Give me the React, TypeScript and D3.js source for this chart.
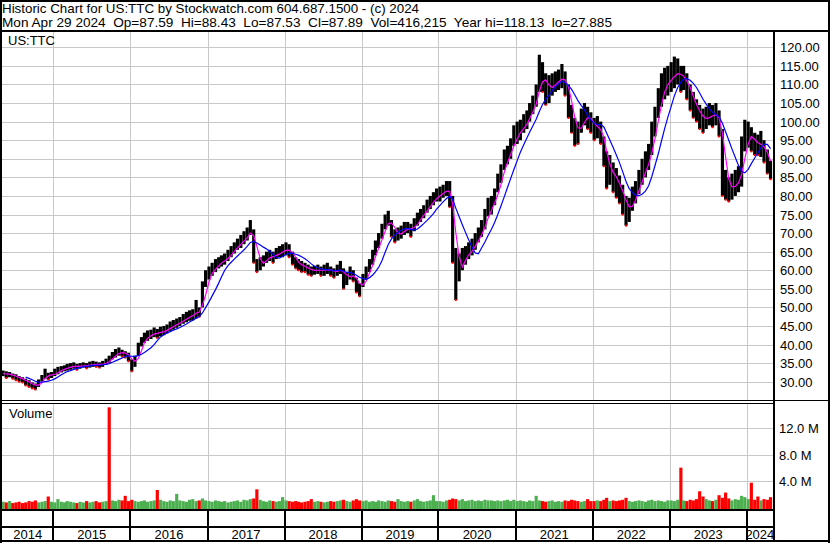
import React from 'react';
import * as d3 from 'd3';

const WIDTH = 830;
const HEIGHT = 543;

// Semi-monthly periods, first half of May 2014 through second half of April 2024
const priceHigh = [
  // 2014 (May-Dec)
  33.0, 32.8, 32.6, 32.2, 32.0, 31.5, 31.2, 30.8, 30.4, 29.8, 29.5, 30.6, 31.8, 33.5, 32.4, 32.6,
  // 2015
  33.5, 34.0, 34.2, 34.4, 34.8, 35.0, 35.2, 34.8, 35.0, 35.2, 35.0, 35.4, 35.6, 35.4, 35.2, 35.6, 36.2, 37.0, 38.0, 38.8, 39.2, 38.6, 38.2, 37.8,
  // 2016
  36.0, 37.0, 40.5, 42.0, 43.2, 43.8, 44.0, 44.6, 44.2, 44.8, 45.0, 45.4, 46.2, 46.6, 47.0, 47.4, 48.2, 48.8, 49.2, 49.5, 52.0, 50.0, 57.0, 60.0,
  // 2017
  61.0, 62.0, 63.0, 63.5, 64.0, 64.5, 65.5, 66.5, 67.5, 68.5, 69.5, 70.5, 71.5, 73.5, 71.0, 63.0, 63.5, 64.0, 65.0, 65.5, 65.0, 66.0, 66.5, 67.0,
  // 2018
  67.5, 67.0, 65.0, 63.5, 63.0, 62.5, 62.0, 61.5, 61.0, 61.2, 61.5, 61.0, 61.5, 62.0, 61.0, 60.5, 61.5, 62.5, 60.5, 59.5, 61.0, 60.0, 58.0, 56.5,
  // 2019
  59.0, 61.0, 63.0, 65.5, 68.0, 70.0, 72.5, 75.0, 76.0, 73.5, 71.0, 71.5, 72.0, 73.0, 73.0, 72.5, 74.0, 75.5, 76.5, 77.5, 79.0, 80.0, 81.0, 82.0,
  // 2020
  82.5, 83.0, 84.0, 84.0, 80.0, 66.0, 64.5, 66.0, 66.5, 67.5, 68.5, 70.0, 71.5, 73.5, 76.5, 79.5, 80.0, 82.0, 86.0, 88.5, 92.5, 93.5, 95.5, 99.0,
  // 2021
  100.0, 100.5, 102.0, 103.0, 105.0, 107.0, 110.0, 118.0, 116.0, 113.0, 112.5, 113.0, 113.5, 114.0, 115.5, 113.5, 110.0, 104.5, 101.0, 100.0, 103.5, 105.0, 104.0, 102.5,
  // 2022
  101.0, 101.5, 100.0, 96.0, 92.0, 91.0, 89.0, 87.5, 85.5, 83.0, 80.0, 79.5, 82.5, 84.0, 87.0, 90.0, 92.0, 94.0, 100.0, 104.0, 109.0, 113.0, 114.5, 115.0,
  // 2023
  116.0, 117.5, 117.0, 115.0, 115.0, 113.0, 110.0, 108.0, 106.0, 104.5, 103.5, 104.0, 105.0, 104.5, 105.0, 103.0, 98.0, 87.0, 85.0, 86.0, 87.0, 88.0, 96.0, 100.5,
  // 2024 (Jan-Apr)
  100.0, 98.5, 97.0, 96.5, 97.5, 95.0, 92.5, 89.5,
];

const priceLow = [
  // 2014
  31.5, 31.0, 31.2, 30.8, 30.4, 30.0, 29.8, 29.0, 28.6, 28.2, 27.9, 28.6, 30.0, 30.8, 30.6, 31.0,
  // 2015
  31.5, 32.0, 32.5, 32.8, 33.0, 33.2, 33.5, 33.2, 33.5, 33.8, 33.6, 33.8, 34.0, 34.0, 33.8, 34.0, 34.5, 35.0, 36.0, 36.5, 37.0, 36.8, 36.5, 35.5,
  // 2016
  32.8, 34.0, 37.0, 39.5, 40.5, 41.0, 41.5, 42.0, 41.8, 42.2, 42.5, 43.0, 43.6, 44.0, 44.5, 45.0, 45.6, 46.0, 46.4, 46.5, 47.0, 47.5, 50.0, 55.5,
  // 2017
  57.5, 58.5, 59.5, 60.5, 61.0, 61.5, 62.5, 63.5, 64.5, 65.5, 66.0, 67.0, 68.0, 69.5, 62.0, 59.5, 60.0, 61.0, 62.0, 62.5, 62.0, 63.0, 63.5, 63.5,
  // 2018
  64.0, 63.5, 61.5, 60.5, 60.0, 59.5, 59.5, 58.8, 58.5, 58.8, 59.0, 58.5, 58.5, 59.0, 58.5, 58.0, 58.5, 59.0, 55.0, 56.0, 57.5, 57.0, 54.0, 53.0,
  // 2019
  55.5, 57.5, 59.5, 61.5, 64.0, 66.0, 68.5, 71.0, 72.0, 69.0, 67.5, 68.0, 68.5, 69.5, 70.0, 69.0, 70.5, 72.0, 73.0, 74.0, 75.5, 76.5, 77.5, 78.5,
  // 2020
  78.5, 79.5, 80.0, 77.0, 62.0, 52.0, 57.0, 60.0, 61.5, 63.0, 64.0, 65.5, 67.5, 69.0, 71.0, 74.5, 75.0, 77.5, 81.0, 83.5, 87.0, 88.5, 90.0, 93.5,
  // 2021
  94.0, 95.0, 97.0, 98.0, 100.0, 102.0, 104.0, 108.0, 108.0, 104.5, 105.0, 107.0, 108.0, 108.5, 109.0, 107.0, 101.0, 97.0, 93.5, 94.0, 97.0, 99.0, 98.0, 97.0,
  // 2022
  95.0, 95.5, 94.0, 88.0, 82.0, 83.0, 81.0, 79.5, 78.0, 75.0, 72.0, 73.0, 76.0, 78.0, 80.5, 83.0, 85.0, 87.0, 91.0, 96.0, 101.0, 104.0, 106.0, 107.0,
  // 2023
  108.0, 109.0, 110.0, 108.0, 108.5, 106.0, 103.0, 101.0, 100.0, 98.0, 97.0, 98.0, 99.0, 98.5, 99.0, 96.0, 80.0, 79.0, 78.5, 79.0, 80.0, 81.0, 82.5, 92.0,
  // 2024
  93.0, 92.0, 91.0, 91.0, 90.5, 89.0, 86.0, 84.5,
];

// Volume in millions of shares (typical daily level per half-month, with spikes)
const volumeM = [
  // 2014
  0.8, 0.7, 0.9, 0.6, 0.7, 0.8, 0.6, 0.7, 0.9, 0.8, 1.0, 0.7, 0.8, 0.9, 1.6, 0.8,
  // 2015
  0.7, 1.2, 0.8, 0.7, 0.9, 0.8, 0.7, 0.6, 0.8, 0.7, 0.9, 0.7, 0.8, 0.9, 0.7, 0.8, 0.9, 15.2, 1.0, 0.9, 1.1, 1.0, 1.7, 0.9,
  // 2016
  1.1, 0.9, 0.8, 0.9, 1.0, 0.8, 0.9, 1.0, 2.6, 1.1, 0.9, 0.8, 1.0, 0.9, 2.0, 1.0, 0.9, 0.8, 1.1, 1.2, 0.9, 1.0, 1.3, 1.0,
  // 2017
  0.9, 0.8, 1.0, 0.9, 0.8, 0.9, 0.7, 0.8, 0.9, 1.0, 0.8, 1.1, 1.0, 1.2, 1.3, 2.7, 1.1, 0.9, 0.8, 1.0, 0.9, 0.8, 0.9, 1.5,
  // 2018
  1.0, 0.9, 0.8, 0.9, 0.8, 0.7, 0.8, 0.9, 1.2, 0.8, 0.9, 0.8, 0.7, 0.8, 0.9, 0.8, 0.9, 1.0, 1.1, 0.9, 0.8, 1.0, 1.2, 1.0,
  // 2019
  0.9, 1.0, 0.8, 0.9, 0.8, 1.0, 0.9, 0.8, 1.0, 0.9, 0.8, 1.2, 0.9, 0.8, 0.9, 0.8, 1.0, 1.2, 0.9, 0.8, 0.9, 1.0, 1.8, 0.9,
  // 2020
  0.9, 0.8, 1.0, 1.1, 1.3, 1.2, 1.0, 1.2, 0.9, 1.0, 1.1, 0.9, 1.0, 0.9, 1.1, 1.0, 1.0, 0.9, 1.0, 0.9, 1.0, 1.1, 0.9, 1.1,
  // 2021
  0.9, 1.0, 0.9, 0.8, 1.0, 0.9, 1.7, 1.0, 0.9, 0.8, 0.9, 1.0, 0.8, 0.9, 0.8, 1.0, 0.9, 1.1, 1.0, 0.9, 0.8, 0.9, 1.2, 0.9,
  // 2022
  0.9, 1.0, 0.9, 1.1, 1.4, 0.9, 1.0, 0.9, 1.0, 1.1, 1.4, 0.9, 0.8, 0.9, 1.0, 0.9, 0.8, 1.0, 1.1, 0.9, 1.0, 0.9, 0.8, 1.0,
  // 2023
  1.0, 0.9, 1.1, 6.0, 1.0, 0.9, 1.1, 1.0, 1.2, 2.4, 1.6, 1.2, 1.0, 0.9, 1.1, 1.8, 1.4, 2.2, 1.3, 1.0, 1.2, 1.1, 1.7, 1.5,
  // 2024
  1.2, 3.7, 1.1, 1.6, 1.0, 1.2, 1.1, 1.5,
];

// periods whose heavy-volume bar is drawn red in the picture (down sessions)
const redVolumePeriods = [33, 48, 79, 211, 217, 233];

const priceTicks = [30, 35, 40, 45, 50, 55, 60, 65, 70, 75, 80, 85, 90, 95, 100, 105, 110, 115, 120];
const volumeTicks = [4, 8, 12];
const yearLabels = ['2014', '2015', '2016', '2017', '2018', '2019', '2020', '2021', '2022', '2023', '2024'];

const headerLine1 = 'Historic Chart for US:TTC by Stockwatch.com 604.687.1500 - (c) 2024';
const headerLine2 = 'Mon Apr 29 2024  Op=87.59  Hi=88.43  Lo=87.53  Cl=87.89  Vol=416,215  Year hi=118.13  lo=27.885';
const symbolLabel = 'US:TTC';
const volumeLabel = 'Volume';

// layout
const PLOT_L = 2;
const PLOT_R = 773;
const MAIN_TOP = 32;
const MAIN_BOTTOM = 400;
const VOL_TOP = 404;
const VOL_BOTTOM = 509;
const FONT = '"Liberation Sans", Arial, Helvetica, sans-serif';
const GRID = '#c8c8c8';

export default function App() {
  const n = priceHigh.length;
  const dates = d3.range(n).map((i) => new Date(2014, 4 + Math.floor(i / 2), i % 2 === 0 ? 8 : 23));

  const x = d3
    .scaleTime()
    .domain([new Date(2015, 0, 1), new Date(2024, 0, 1)])
    .range([53.3, 746.7]);
  const yP = d3.scaleLinear().domain([30, 120]).range([381.7, 47.3]);
  const yV = d3.scaleLinear().domain([0, 12]).range([507, 428.3]);

  const barW = x(new Date(2020, 0, 16)) - x(new Date(2020, 0, 1));

  const mids = priceHigh.map((h, i) => (h + priceLow[i]) / 2);
  // moving averages of the period closes (approximated by bar midpoints)
  const sma = (arr: number[], w: number, partial: boolean) =>
    arr.map((_, i) => {
      if (i < w - 1 && !partial) return null;
      return d3.mean(arr.slice(Math.max(0, i - w + 1), i + 1)) as number;
    });
  const maFast = sma(mids, 3, true);
  const maSlow = sma(mids, 8, false);

  const line = d3
    .line<number | null>()
    .defined((d) => d != null)
    .x((_, i) => x(dates[i]))
    .y((d) => yP(d as number));

  const yearBounds = d3.range(2015, 2025).map((yr) => x(new Date(yr, 0, 1)));
  const yearEdges = [PLOT_L, ...yearBounds, PLOT_R];

  return (
    <svg
      width={WIDTH}
      height={HEIGHT}
      style={{ position: 'absolute', left: 0, top: 0, background: '#fff' }}
      fontFamily={FONT}
      fontSize={13}
    >
      <rect x={0} y={0} width={WIDTH} height={HEIGHT} fill="#fff" />

      {/* gridlines main */}
      {priceTicks.map((t) => (
        <line key={'hp' + t} x1={PLOT_L} x2={PLOT_R} y1={Math.round(yP(t)) + 0.5} y2={Math.round(yP(t)) + 0.5} stroke={GRID} strokeWidth={1} />
      ))}
      {yearBounds.map((bx, i) => (
        <line key={'vp' + i} x1={Math.round(bx) + 0.5} x2={Math.round(bx) + 0.5} y1={MAIN_TOP} y2={MAIN_BOTTOM} stroke={GRID} strokeWidth={1} />
      ))}
      {/* gridlines volume */}
      {volumeTicks.map((t) => (
        <line key={'hv' + t} x1={PLOT_L} x2={PLOT_R} y1={Math.round(yV(t)) + 0.5} y2={Math.round(yV(t)) + 0.5} stroke={GRID} strokeWidth={1} />
      ))}
      {yearBounds.map((bx, i) => (
        <line key={'vv' + i} x1={Math.round(bx) + 0.5} x2={Math.round(bx) + 0.5} y1={VOL_TOP} y2={VOL_BOTTOM} stroke={GRID} strokeWidth={1} />
      ))}

      {/* price bars */}
      <g>
        {mids.map((_, i) => (
          <rect
            key={'b' + i}
            x={x(dates[i]) - barW / 2}
            y={yP(priceHigh[i])}
            width={barW}
            height={Math.max(1, yP(priceLow[i]) - yP(priceHigh[i]))}
            fill="#000"
          />
        ))}
        {mids.map((m, i) =>
          i > 0 && m < mids[i - 1] ? (
            <rect key={'r' + i} x={x(dates[i]) - 1} y={yP(priceLow[i]) - 1} width={2} height={2} fill="#ff0000" />
          ) : null
        )}
      </g>

      <path d={line(maFast) || ''} fill="none" stroke="#ff00ff" strokeWidth={1.2} />
      <path d={line(maSlow) || ''} fill="none" stroke="#0000ff" strokeWidth={1.2} />

      {/* volume bars */}
      {volumeM.map((v, i) => {
        const up = (i === 0 || mids[i] >= mids[i - 1]) && !redVolumePeriods.includes(i);
        return (
          <rect
            key={'v' + i}
            x={x(dates[i]) - barW / 2}
            y={yV(v)}
            width={barW}
            height={VOL_BOTTOM - yV(v)}
            fill={up ? '#4caf50' : '#ff0000'}
          />
        );
      })}

      {/* frame lines */}
      <rect x={0} y={0} width={WIDTH} height={2} fill="#000" />
      <rect x={0} y={30} width={WIDTH} height={2} fill="#000" />
      <rect x={0} y={0} width={2} height={HEIGHT} fill="#000" />
      <rect x={828} y={0} width={2} height={HEIGHT} fill="#000" />
      <rect x={0} y={540} width={WIDTH} height={2} fill="#000" />
      <rect x={PLOT_R} y={31} width={2} height={HEIGHT - 32} fill="#000" />
      <rect x={0} y={400} width={PLOT_R} height={1} fill="#000" />
      <rect x={0} y={403} width={PLOT_R} height={1} fill="#000" />
      <rect x={PLOT_R} y={400} width={WIDTH - PLOT_R} height={1} fill="#000" />
      <rect x={0} y={VOL_BOTTOM} width={PLOT_R} height={2} fill="#000" />
      <rect x={0} y={526} width={PLOT_R} height={2} fill="#000" />
      {yearBounds.map((bx, i) => (
        <rect key={'ys' + i} x={Math.round(bx) - 1} y={VOL_BOTTOM} width={2} height={540 - VOL_BOTTOM} fill="#000" />
      ))}

      {/* header */}
      <text x={2} y={12.7} fill="#000" fontSize={13.5} textLength={417} lengthAdjust="spacingAndGlyphs" style={{ whiteSpace: 'pre' }}>
        {headerLine1}
      </text>
      <text x={2} y={26.5} fill="#000" fontSize={13.5} textLength={610} lengthAdjust="spacingAndGlyphs" style={{ whiteSpace: 'pre' }}>
        {headerLine2}
      </text>

      <text x={8} y={45} fill="#000">{symbolLabel}</text>
      <text x={9} y={418} fill="#000">{volumeLabel}</text>

      {/* price axis labels */}
      {priceTicks.map((t) => (
        <text key={'pl' + t} x={780} y={yP(t) + 5} fill="#000">
          {t.toFixed(2)}
        </text>
      ))}
      {volumeTicks.map((t) => (
        <text key={'vl' + t} x={779} y={yV(t) + 5} fill="#000">
          {t.toFixed(1) + ' M'}
        </text>
      ))}

      {/* year labels */}
      {yearLabels.map((lab, i) => (
        <text key={'yl' + lab} x={(yearEdges[i] + yearEdges[i + 1]) / 2} y={539} textAnchor="middle" fill="#000">
          {lab}
        </text>
      ))}
    </svg>
  );
}
